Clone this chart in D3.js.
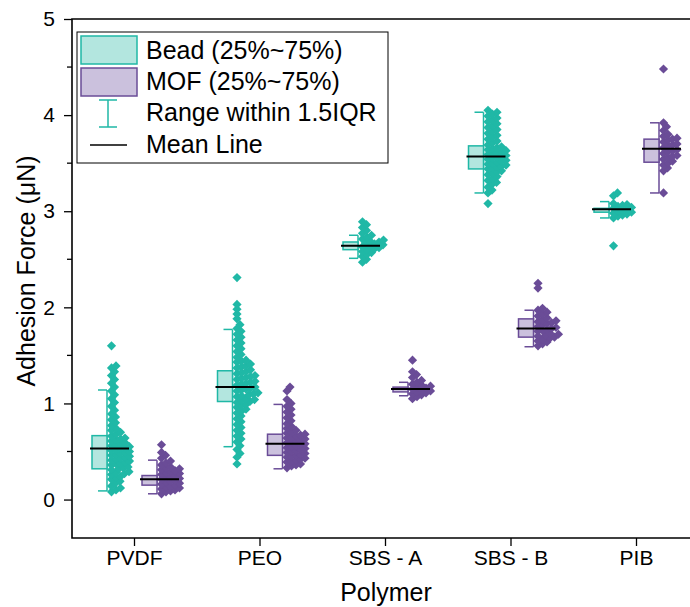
<!DOCTYPE html>
<html>
<head>
<meta charset="utf-8">
<script src="https://cdn.jsdelivr.net/npm/d3@7"></script>
<style>
  body { margin: 0; background: #fff; }
  text { font-family: "Liberation Sans", Arial, sans-serif; fill: #000; }
</style>
</head>
<body>
<div id="chart"></div>
<script>
// categories and series
const categories = ['PVDF', 'PEO', 'SBS - A', 'SBS - B', 'PIB'];
const seriesNames = ['Bead', 'MOF'];
const yTicks = [0, 1, 2, 3, 4, 5];

// box statistics, one entry per category
const beadQ1 = [0.32, 1.02, 2.60, 3.44, 2.99];
const beadQ3 = [0.665, 1.34, 2.68, 3.68, 3.03];
const beadMean = [0.53, 1.17, 2.64, 3.57, 3.02];
const beadLow = [0.09, 0.55, 2.51, 3.19, 2.93];
const beadHigh = [1.14, 1.77, 2.75, 4.03, 3.10];

const mofQ1 = [0.15, 0.46, 1.12, 1.69, 3.51];
const mofQ3 = [0.25, 0.68, 1.17, 1.88, 3.75];
const mofMean = [0.21, 0.58, 1.15, 1.78, 3.65];
const mofLow = [0.06, 0.32, 1.08, 1.59, 3.19];
const mofHigh = [0.41, 0.99, 1.22, 1.97, 3.92];

// raw measurements (estimated from the figure)
const beadPVDF = [0.08, 0.10, 0.12, 0.14, 0.17, 0.19, 0.21, 0.23, 0.24, 0.26, 0.27, 0.28, 0.29, 0.31, 0.32,
  0.33, 0.34, 0.36, 0.37, 0.38, 0.39, 0.40, 0.41, 0.42, 0.43, 0.44, 0.45, 0.46, 0.47, 0.48, 0.49, 0.50,
  0.51, 0.52, 0.53, 0.54, 0.55, 0.56, 0.57, 0.58, 0.59, 0.61, 0.62, 0.63, 0.64, 0.66, 0.68, 0.70, 0.72,
  0.74, 0.77, 0.80, 0.83, 0.86, 0.89, 0.93, 0.97, 1.01, 1.05, 1.09, 1.13, 1.17, 1.21, 1.25, 1.29, 1.33,
  1.37, 1.39, 1.60];
const beadPEO = [0.37, 0.44, 0.48, 0.52, 0.56, 0.60, 0.63, 0.66, 0.69, 0.72, 0.75, 0.78, 0.81, 0.84, 0.87,
  0.90, 0.92, 0.94, 0.96, 0.98, 0.99, 1.01, 1.02, 1.03, 1.04, 1.05, 1.07, 1.08, 1.09, 1.10, 1.11, 1.13,
  1.14, 1.15, 1.16, 1.17, 1.19, 1.20, 1.21, 1.22, 1.23, 1.25, 1.26, 1.27, 1.28, 1.29, 1.31, 1.32, 1.33,
  1.35, 1.37, 1.38, 1.39, 1.41, 1.43, 1.44, 1.45, 1.48, 1.51, 1.54, 1.57, 1.60, 1.63, 1.66, 1.69, 1.72,
  1.75, 1.78, 1.82, 1.88, 1.93, 1.98, 2.03, 2.31];
const beadSBSA = [2.47, 2.50, 2.53, 2.55, 2.57, 2.58, 2.60, 2.61, 2.62, 2.63, 2.64, 2.65, 2.66, 2.67, 2.68,
  2.69, 2.70, 2.71, 2.73, 2.75, 2.77, 2.80, 2.83, 2.86, 2.89];
const beadSBSB = [3.08, 3.19, 3.22, 3.25, 3.28, 3.30, 3.32, 3.34, 3.36, 3.38, 3.40, 3.41, 3.42, 3.44, 3.45,
  3.46, 3.47, 3.48, 3.49, 3.50, 3.51, 3.52, 3.53, 3.54, 3.55, 3.56, 3.57, 3.58, 3.59, 3.60, 3.61, 3.62,
  3.63, 3.64, 3.65, 3.66, 3.67, 3.69, 3.71, 3.73, 3.75, 3.77, 3.79, 3.81, 3.83, 3.85, 3.87, 3.89, 3.91,
  3.93, 3.95, 3.97, 3.99, 4.01, 4.03, 4.05];
const beadPIB = [2.64, 2.93, 2.95, 2.96, 2.97, 2.98, 2.99, 3.00, 3.01, 3.02, 3.03, 3.04, 3.05, 3.06, 3.07,
  3.08, 3.16, 3.19];

const mofPVDF = [0.06, 0.08, 0.09, 0.10, 0.11, 0.12, 0.13, 0.14, 0.15, 0.16, 0.17, 0.18, 0.19, 0.20, 0.21,
  0.22, 0.23, 0.24, 0.25, 0.26, 0.27, 0.28, 0.29, 0.30, 0.31, 0.32, 0.33, 0.34, 0.36, 0.38, 0.40, 0.43,
  0.46, 0.49, 0.57];
const mofPEO = [0.33, 0.35, 0.36, 0.37, 0.39, 0.40, 0.41, 0.42, 0.43, 0.44, 0.45, 0.46, 0.47, 0.48, 0.49,
  0.50, 0.51, 0.52, 0.53, 0.54, 0.55, 0.56, 0.57, 0.58, 0.59, 0.60, 0.61, 0.62, 0.63, 0.64, 0.65, 0.66,
  0.67, 0.68, 0.69, 0.70, 0.72, 0.74, 0.76, 0.79, 0.82, 0.85, 0.88, 0.91, 0.94, 0.97, 1.00, 1.04, 1.13,
  1.17];
const mofSBSA = [1.05, 1.07, 1.09, 1.10, 1.11, 1.12, 1.13, 1.14, 1.15, 1.16, 1.17, 1.18, 1.19, 1.20, 1.22,
  1.24, 1.27, 1.30, 1.33, 1.45];
const mofSBSB = [1.60, 1.62, 1.64, 1.65, 1.67, 1.68, 1.69, 1.70, 1.71, 1.72, 1.73, 1.75, 1.76, 1.77, 1.78,
  1.79, 1.80, 1.82, 1.83, 1.84, 1.85, 1.86, 1.87, 1.89, 1.91, 1.93, 1.95, 1.97, 1.99, 2.20, 2.25];
const mofPIB = [3.19, 3.42, 3.45, 3.48, 3.50, 3.52, 3.54, 3.56, 3.57, 3.58, 3.60, 3.62, 3.63, 3.64, 3.66,
  3.68, 3.69, 3.70, 3.72, 3.74, 3.75, 3.76, 3.78, 3.80, 3.84, 3.88, 3.92, 4.48];

const beadPoints = [beadPVDF, beadPEO, beadSBSA, beadSBSB, beadPIB];
const mofPoints = [mofPVDF, mofPEO, mofSBSA, mofSBSB, mofPIB];

// colours
const dark = { Bead: '#20b8a6', MOF: '#6a4c97' };
const light = { Bead: '#b3e6df', MOF: '#cbc1dd' };

const W = 690, H = 607;
const plotLeft = 72, plotRight = 690, plotTop = 19, plotBottom = 538;

const svg = d3.select('#chart').append('svg')
  .attr('width', W)
  .attr('height', H);

const y = d3.scaleLinear().domain([-0.4, 5]).range([plotBottom, plotTop]);
const x = d3.scalePoint().domain(categories).range([134, 636]);
const offset = { Bead: -27, MOF: 23 };

// group table built from arrays
const groups = [];
categories.forEach((cat, i) => {
  groups.push({ s: 'Bead', cat, q1: beadQ1[i], q3: beadQ3[i], mean: beadMean[i], lo: beadLow[i], hi: beadHigh[i], pts: beadPoints[i] });
  groups.push({ s: 'MOF', cat, q1: mofQ1[i], q3: mofQ3[i], mean: mofMean[i], lo: mofLow[i], hi: mofHigh[i], pts: mofPoints[i] });
});

// one-sided beeswarm: push points right until they stop colliding
const D = 4.6;
function swarm(values) {
  const placed = [];
  values.slice().sort((a, b) => a - b).forEach(v => {
    const cy = y(v);
    let dx = 0;
    for (;;) {
      const hit = placed.some(p => Math.abs(p.cy - cy) < D &&
        (p.dx - dx) ** 2 + (p.cy - cy) ** 2 < D * D);
      if (!hit) break;
      dx += 0.5;
    }
    placed.push({ v, cy, dx });
  });
  return placed;
}

const diamond = r => `M0,${-r}L${r},0L0,${r}L${-r},0Z`;

// axes
const yAxis = svg.append('g')
  .attr('transform', `translate(${plotLeft},0)`)
  .call(d3.axisLeft(y).tickValues(yTicks).tickSize(8).tickPadding(9).tickFormat(d3.format('d')));
yAxis.select('.domain').remove();
yAxis.selectAll('text').style('font-size', '21px');
yAxis.selectAll('line').attr('stroke-width', 1.3);

svg.append('g')
  .attr('transform', `translate(${plotLeft},0)`)
  .selectAll('line')
  .data(d3.range(0.5, 5, 1))
  .enter()
  .append('line')
  .attr('x1', -5).attr('x2', 0)
  .attr('y1', d => y(d)).attr('y2', d => y(d))
  .attr('stroke', '#000').attr('stroke-width', 1.3);

const xAxis = svg.append('g')
  .attr('transform', `translate(0,${plotBottom})`)
  .call(d3.axisBottom(x).tickSize(8).tickPadding(4));
xAxis.select('.domain').remove();
xAxis.selectAll('text').style('font-size', '21px');
xAxis.selectAll('line').attr('stroke-width', 1.3);

// frame
svg.append('path')
  .attr('d', `M${plotRight},${plotTop}H${plotLeft}V${plotBottom}H${plotRight}`)
  .attr('fill', 'none')
  .attr('stroke', '#000')
  .attr('stroke-width', 1.6);

// boxes, whiskers, points, means
const g = svg.append('g');
groups.forEach(d => {
  const c = x(d.cat) + offset[d.s];
  g.append('line')
    .attr('x1', c).attr('x2', c)
    .attr('y1', y(d.hi)).attr('y2', y(d.lo))
    .attr('stroke', dark[d.s]).attr('stroke-width', 1.5);
  [d.hi, d.lo].forEach(v => {
    g.append('line')
      .attr('x1', c - 9).attr('x2', c)
      .attr('y1', y(v)).attr('y2', y(v))
      .attr('stroke', dark[d.s]).attr('stroke-width', 1.5);
  });
  g.append('rect')
    .attr('x', c - 15)
    .attr('y', y(d.q3))
    .attr('width', 15)
    .attr('height', y(d.q1) - y(d.q3))
    .attr('fill', light[d.s])
    .attr('stroke', dark[d.s])
    .attr('stroke-width', 1.5);
  g.append('g')
    .selectAll('path')
    .data(swarm(d.pts))
    .enter()
    .append('path')
    .attr('d', diamond(4.6))
    .attr('transform', p => `translate(${c + 4.5 + p.dx},${p.cy})`)
    .attr('fill', dark[d.s]);
});
groups.forEach(d => {
  const c = x(d.cat) + offset[d.s];
  g.append('line')
    .attr('x1', c - 17).attr('x2', c + 22)
    .attr('y1', y(d.mean)).attr('y2', y(d.mean))
    .attr('stroke', '#000').attr('stroke-width', 2);
});

// axis titles
svg.append('text')
  .attr('x', 386)
  .attr('y', 601)
  .attr('text-anchor', 'middle')
  .style('font-size', '25px')
  .text('Polymer');

svg.append('text')
  .attr('transform', 'rotate(-90)')
  .attr('x', -271)
  .attr('y', 35)
  .attr('text-anchor', 'middle')
  .style('font-size', '25px')
  .text('Adhesion Force (μN)');

// legend
const legend = svg.append('g').attr('transform', 'translate(77,32)');
legend.append('rect')
  .attr('width', 311).attr('height', 131)
  .attr('fill', '#fff').attr('stroke', '#000').attr('stroke-width', 1);

seriesNames.forEach((s, i) => {
  legend.append('rect')
    .attr('x', 4).attr('y', 4 + i * 32)
    .attr('width', 56).attr('height', 28)
    .attr('fill', light[s]).attr('stroke', dark[s]).attr('stroke-width', 1.5);
  legend.append('text')
    .attr('x', 69).attr('y', 27 + i * 30.5)
    .style('font-size', '25px')
    .text(`${s} (25%~75%)`);
});
legend.append('path')
  .attr('d', 'M22,68H40M31,68V95M22,95H40')
  .attr('fill', 'none').attr('stroke', dark.Bead).attr('stroke-width', 1.5);
legend.append('text')
  .attr('x', 69).attr('y', 89)
  .style('font-size', '25px')
  .text('Range within 1.5IQR');
legend.append('line')
  .attr('x1', 13).attr('x2', 50)
  .attr('y1', 113).attr('y2', 113)
  .attr('stroke', '#000').attr('stroke-width', 1.5);
legend.append('text')
  .attr('x', 69).attr('y', 121)
  .style('font-size', '25px')
  .text('Mean Line');
</script>
</body>
</html>
